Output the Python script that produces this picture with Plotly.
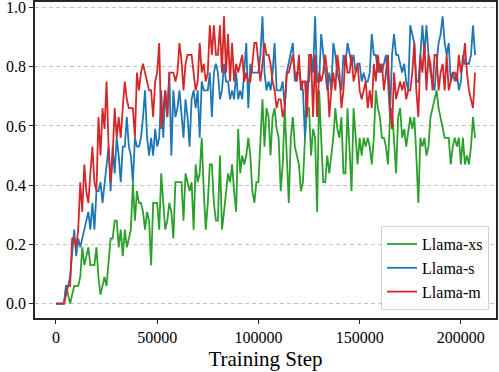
import plotly.graph_objects as go

# evaluation every 1000 training steps
steps = list(range(0, 208000, 1000))

llama_xs = [
    0, 0, 0, 0, 0, 0.06, 0.03, 0, 0.03, 0.06,
    0.06, 0.06, 0.09, 0.19, 0.13, 0.16, 0.19, 0.13, 0.13, 0.13,
    0.19, 0.09, 0.03, 0.06, 0.09, 0.06, 0.13, 0.22, 0.22, 0.28,
    0.28, 0.19, 0.25, 0.16, 0.25, 0.19, 0.22, 0.25, 0.41, 0.28,
    0.38, 0.34, 0.34, 0.31, 0.25, 0.31, 0.28, 0.13, 0.34, 0.34,
    0.34, 0.25, 0.44, 0.34, 0.25, 0.28, 0.34, 0.31, 0.22, 0.41,
    0.41, 0.41, 0.41, 0.28, 0.44, 0.41, 0.38, 0.41, 0.25, 0.47,
    0.41, 0.44, 0.56, 0.38, 0.25, 0.34, 0.47, 0.47, 0.34, 0.28,
    0.28, 0.50, 0.25, 0.31, 0.38, 0.44, 0.41, 0.47, 0.38, 0.31,
    0.59, 0.44, 0.50, 0.47, 0.50, 0.56, 0.50, 0.38, 0.34, 0.41,
    0.41, 0.56, 0.69, 0.53, 0.66, 0.63, 0.50, 0.63, 0.66, 0.59,
    0.56, 0.38, 0.47, 0.66, 0.50, 0.34, 0.56, 0.63, 0.53, 0.50,
    0.47, 0.38, 0.41, 0.56, 0.66, 0.66, 0.50, 0.59, 0.56, 0.31,
    0.72, 0.56, 0.41, 0.41, 0.50, 0.44, 0.50, 0.56, 0.66, 0.59,
    0.56, 0.63, 0.44, 0.44, 0.66, 0.53, 0.38, 0.66, 0.56, 0.47,
    0.56, 0.50, 0.56, 0.53, 0.56, 0.53, 0.47, 0.56, 0.72, 0.66,
    0.63, 0.56, 0.56, 0.53, 0.47, 0.63, 0.66, 0.56, 0.44, 0.63,
    0.66, 0.56, 0.59, 0.53, 0.59, 0.63, 0.59, 0.63, 0.50, 0.34,
    0.56, 0.53, 0.56, 0.50, 0.53, 0.63, 0.66, 0.69, 0.72, 0.66,
    0.63, 0.59, 0.56, 0.56, 0.56, 0.47, 0.53, 0.56, 0.53, 0.56,
    0.47, 0.56, 0.47, 0.50, 0.47, 0.53, 0.63, 0.56,
]

llama_s = [
    0, 0, 0, 0, 0, 0.06, 0.06, 0.09, 0.16, 0.25,
    0.16, 0.22, 0.19, 0.22, 0.25, 0.28, 0.31, 0.25, 0.34, 0.25,
    0.38, 0.38, 0.41, 0.34, 0.41, 0.47, 0.53, 0.38, 0.53, 0.44,
    0.56, 0.50, 0.41, 0.53, 0.53, 0.63, 0.53, 0.50, 0.41, 0.56,
    0.53, 0.53, 0.56, 0.63, 0.72, 0.56, 0.50, 0.56, 0.50, 0.59,
    0.53, 0.56, 0.72, 0.56, 0.72, 0.63, 0.78, 0.50, 0.72, 0.63,
    0.66, 0.72, 0.63, 0.56, 0.69, 0.63, 0.53, 0.69, 0.72, 0.66,
    0.72, 0.56, 0.75, 0.72, 0.72, 0.72, 0.78, 0.63, 0.78, 0.81,
    0.78, 0.69, 0.72, 0.81, 0.75, 0.75, 0.69, 0.72, 0.69, 0.78,
    0.69, 0.72, 0.69, 0.78, 0.88, 0.66, 0.81, 0.78, 0.78, 0.78,
    0.78, 0.84, 0.97, 0.78, 0.72, 0.75, 0.72, 0.78, 0.88, 0.72,
    0.72, 0.72, 0.75, 0.66, 0.78, 0.81, 0.84, 0.88, 0.75, 0.78,
    0.78, 0.75, 0.72, 0.56, 0.75, 0.75, 0.84, 0.78, 0.97, 0.75,
    0.75, 0.91, 0.84, 0.78, 0.72, 0.78, 0.72, 0.88, 0.84, 0.78,
    0.75, 0.72, 0.84, 0.81, 0.88, 0.84, 0.81, 0.84, 0.78, 0.81,
    0.81, 0.75, 0.78, 0.75, 0.75, 0.78, 0.91, 0.84, 0.84, 0.78,
    0.81, 0.78, 0.81, 0.84, 0.75, 0.63, 0.84, 0.91, 0.84, 0.84,
    0.81, 0.78, 0.81, 0.75, 0.72, 0.94, 0.91, 0.88, 0.75, 0.75,
    0.84, 0.94, 0.84, 0.94, 0.84, 0.78, 0.75, 0.72, 0.81, 0.88,
    0.91, 0.97, 0.88, 0.84, 0.88, 0.75, 0.78, 0.75, 0.78, 0.72,
    0.75, 0.84, 0.81, 0.81, 0.81, 0.84, 0.94, 0.84,
]

llama_m = [
    0, 0, 0, 0, 0, 0.03, 0.06, 0.06, 0.22, 0.22,
    0.19, 0.25, 0.41, 0.31, 0.47, 0.38, 0.34, 0.44, 0.53, 0.41,
    0.38, 0.63, 0.50, 0.66, 0.59, 0.75, 0.53, 0.41, 0.50, 0.66,
    0.56, 0.63, 0.56, 0.66, 0.75, 0.69, 0.66, 0.66, 0.66, 0.56,
    0.78, 0.72, 0.78, 0.81, 0.78, 0.75, 0.72, 0.72, 0.63, 0.75,
    0.78, 0.88, 0.59, 0.66, 0.72, 0.63, 0.78, 0.78, 0.78, 0.75,
    0.78, 0.88, 0.82, 0.72, 0.81, 0.84, 0.84, 0.84, 0.78, 0.72,
    0.75, 0.88, 0.78, 0.81, 0.75, 0.78, 0.94, 0.84, 0.94, 0.84,
    0.84, 0.94, 0.78, 0.97, 0.78, 0.91, 0.75, 0.88, 0.75, 0.81,
    0.78, 0.81, 0.84, 0.75, 0.78, 0.75, 0.75, 0.81, 0.88, 0.88,
    0.81, 0.75, 0.81, 0.88, 0.84, 0.84, 0.81, 0.75, 0.72, 0.66,
    0.69, 0.69, 0.63, 0.66, 0.78, 0.78, 0.81, 0.84, 0.78, 0.75,
    0.84, 0.72, 0.75, 0.75, 0.63, 0.84, 0.84, 0.63, 0.84, 0.63,
    0.78, 0.75, 0.78, 0.84, 0.78, 0.63, 0.72, 0.78, 0.72, 0.84,
    0.78, 0.66, 0.72, 0.84, 0.78, 0.78, 0.84, 0.75, 0.78, 0.81,
    0.72, 0.69, 0.72, 0.75, 0.66, 0.72, 0.66, 0.81, 0.75, 0.84,
    0.78, 0.81, 0.72, 0.78, 0.84, 0.66, 0.59, 0.78, 0.69, 0.72,
    0.75, 0.72, 0.75, 0.69, 0.72, 0.72, 0.78, 0.88, 0.72, 0.63,
    0.84, 0.78, 0.88, 0.72, 0.84, 0.81, 0.72, 0.84, 0.84, 0.72,
    0.78, 0.81, 0.72, 0.84, 0.72, 0.75, 0.78, 0.78, 0.75, 0.84,
    0.78, 0.81, 0.88, 0.78, 0.72, 0.69, 0.66, 0.78,
]

series = [
    ("Llama-xs", llama_xs, "#2ca02c"),
    ("Llama-s", llama_s, "#1f77b4"),
    ("Llama-m", llama_m, "#d62728"),
]

font = "Liberation Serif"

fig = go.Figure()
for name, vals, color in series:
    fig.add_trace(go.Scatter(x=steps, y=vals, mode="lines", name=name,
                             line=dict(color=color, width=1.8)))

fig.update_layout(
    width=499, height=372,
    margin=dict(l=35, r=3, t=2, b=54),
    plot_bgcolor="white", paper_bgcolor="white",
    font=dict(family=font, size=16, color="black"),
    showlegend=True,
    legend=dict(
        x=0.985, y=0.025, xanchor="right", yanchor="bottom",
        bgcolor="rgba(255,255,255,0.9)", bordercolor="#d0d0d0", borderwidth=1,
        font=dict(family=font, size=16), tracegroupgap=0,
    ),
)

fig.update_xaxes(
    range=[-10350, 217350], tickvals=[0, 50000, 100000, 150000, 200000],
    tickformat="d", showgrid=False, zeroline=False, automargin=False,
    ticks="outside", ticklen=4, tickcolor="#262626", ticklabeloverflow="allow",
    showline=True, linecolor="#262626", linewidth=1.5, mirror=True,
    title=dict(text="Training Step", font=dict(family=font, size=21), standoff=6),
)
fig.update_yaxes(
    range=[-0.0485, 1.0185], tickvals=[0, 0.2, 0.4, 0.6, 0.8, 1.0],
    tickformat=".1f", showgrid=True, gridcolor="#c4c4c4", griddash="4px,3px",
    gridwidth=0.8, zeroline=False, automargin=False,
    ticks="outside", ticklen=4, tickcolor="#262626", ticklabeloverflow="allow",
    showline=True, linecolor="#262626", linewidth=1.5, mirror=True,
)

# the page body has a default 8px margin; remove it so the figure sits at 0,0
fig.write_html("out.html", config={"displayModeBar": False},
               post_script="document.body.style.margin='0';document.body.style.overflow='hidden';")
